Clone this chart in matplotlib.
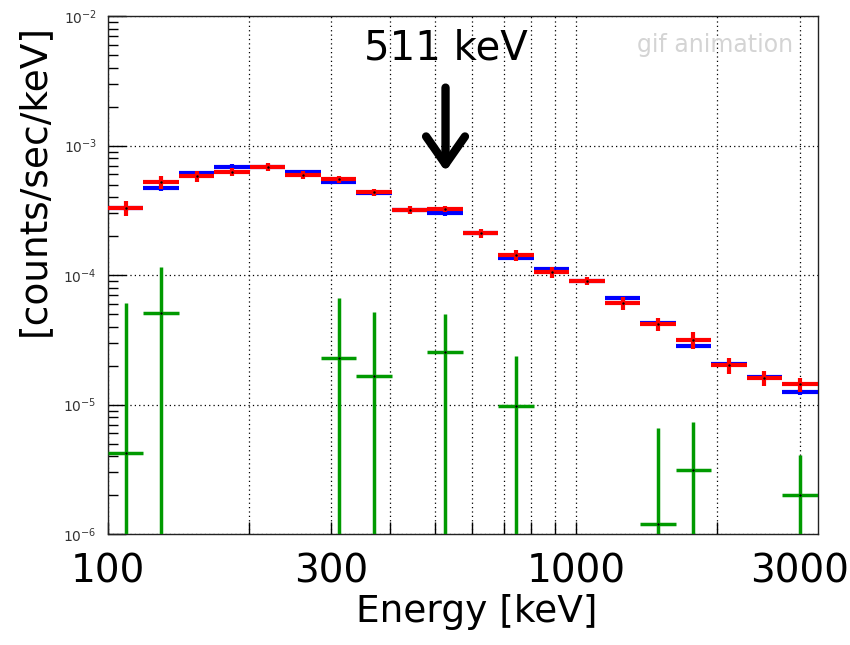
import numpy as np
import matplotlib
matplotlib.use('Agg')
import matplotlib.pyplot as plt
from matplotlib.ticker import FixedLocator, NullFormatter, LogLocator

# histogram binning (keV), 20 log bins
bin_edges = [100, 119.0, 141.8, 168.8, 201.0, 239.3, 285.0, 339.3, 404.1, 481.1,
             572.9, 682.1, 812.2, 967.1, 1151.5, 1371, 1632, 1943, 2314, 2754, 3280]

# red spectrum
red_vals = [3.29e-4, 5.2e-4, 5.81e-4, 6.28e-4, 6.86e-4, 5.97e-4, 5.5e-4, 4.35e-4, 3.18e-4, 3.25e-4,
            2.1e-4, 1.43e-4, 1.06e-4, 9.04e-5, 6.1e-5, 4.2e-5, 3.16e-5, 2.01e-5, 1.61e-5, 1.43e-5]
red_errs = [4.4e-5, 6.1e-5, 5.4e-5, 4.6e-5, 4.8e-5, 4.2e-5, 3.7e-5, 2.6e-5, 2.3e-5, 1.9e-5,
            1.8e-5, 1.4e-5, 1.05e-5, 7.1e-6, 7.2e-6, 4.7e-6, 4.8e-6, 2.8e-6, 2.2e-6, 1.8e-6]

# blue spectrum
blue_vals = [3.29e-4, 4.67e-4, 6.1e-4, 6.86e-4, 6.86e-4, 6.2e-4, 5.26e-4, 4.3e-4, 3.18e-4, 3.01e-4,
             2.1e-4, 1.36e-4, 1.11e-4, 9.0e-5, 6.64e-5, 4.25e-5, 2.85e-5, 2.04e-5, 1.63e-5, 1.25e-5]
blue_errs = [1.5e-5, 2.1e-5, 2.7e-5, 3.1e-5, 3.1e-5, 2.8e-5, 2.4e-5, 1.9e-5, 1.4e-5, 1.4e-5,
             9e-6, 6e-6, 5e-6, 4e-6, 3e-6, 1.9e-6, 1.3e-6, 9e-7, 7e-7, 6e-7]

# green difference (only the bins that show up)
green_bins = [0, 1, 6, 7, 9, 11, 15, 16, 19]
green_vals = [4.2e-6, 5.1e-5, 2.3e-5, 1.65e-5, 2.55e-5, 9.7e-6, 1.2e-6, 3.1e-6, 2.0e-6]
green_errs = [5.7e-5, 6.4e-5, 4.3e-5, 3.5e-5, 2.45e-5, 1.4e-5, 5.4e-6, 4.3e-6, 2.1e-6]

x_ticks = [100, 200, 300, 400, 500, 600, 700, 800, 900, 1000, 2000, 3000]
x_ticklabels = ['100', '', '300', '', '', '', '', '', '', '1000', '', '3000']

edges = np.array(bin_edges)
centers = np.sqrt(edges[:-1] * edges[1:])
xlo = centers - edges[:-1]
xhi = edges[1:] - centers

fig = plt.figure(figsize=(8.5, 6.45), dpi=100)
ax = fig.add_axes([0.127, 0.172, 0.835, 0.803])
ax.set_xscale('log')
ax.set_yscale('log')
ax.set_xlim(100, 3280)
ax.set_ylim(1e-6, 1e-2)

red = '#ff0000'
blue = '#0000ff'
green = '#009a00'

ax.errorbar(centers, blue_vals, yerr=blue_errs, xerr=[xlo, xhi], fmt='none',
            ecolor=blue, elinewidth=3, capsize=0, zorder=3)
ax.errorbar(centers, red_vals, yerr=red_errs, xerr=[xlo, xhi], fmt='none',
            ecolor=red, elinewidth=3, capsize=0, zorder=4)

gv = np.array(green_vals)
ge = np.array(green_errs)
gi = np.array(green_bins)
ax.errorbar(centers[gi], gv, yerr=[np.minimum(ge, gv * 0.999), ge],
            xerr=[xlo[gi], xhi[gi]], fmt='none', ecolor=green, elinewidth=2.5,
            capsize=0, zorder=4)

# little centre dots like ROOT markers
ax.plot(centers, red_vals, ls='none', marker='.', ms=1.5, color='black', zorder=5)
ax.plot(centers[gi], gv, ls='none', marker='.', ms=1.5, color='black', zorder=5)

# ticks and grid
ax.xaxis.set_major_locator(FixedLocator(x_ticks))
ax.set_xticklabels(x_ticklabels, fontsize=28)
ax.xaxis.set_minor_locator(FixedLocator([]))
ax.yaxis.set_major_locator(LogLocator(base=10, numticks=10))
ax.yaxis.set_minor_locator(LogLocator(base=10, subs=np.arange(2, 10), numticks=10))
ax.yaxis.set_minor_formatter(NullFormatter())
ax.tick_params(axis='x', direction='in', length=9, width=1, pad=13, top=False, colors='black')
ax.tick_params(axis='y', which='major', direction='in', length=13, width=1, labelsize=10,
               labelcolor='#333333', pad=8, right=False)
ax.tick_params(axis='y', which='minor', direction='in', length=7, width=1, right=False)
ax.grid(True, which='major', axis='both', color='black', linestyle=(0, (1, 2.5)), linewidth=0.9)
for s in ax.spines.values():
    s.set_linewidth(1.0)
    s.set_color('#222222')

# labels
fig.text(34 / 850, 1 - 180 / 645, '[counts/sec/keV]', rotation=90, fontsize=27,
         ha='center', va='center')
fig.text(477 / 850, 1 - 612 / 645, 'Energy [keV]', fontsize=27, ha='center', va='center')

# 511 keV marker
ax.text(526, 0.938, '511 keV', transform=ax.get_xaxis_transform(), fontsize=29,
        ha='center', va='center', zorder=6)
ax.annotate('', xy=(526, 0.700), xytext=(526, 0.862),
            xycoords=ax.get_xaxis_transform(), textcoords=ax.get_xaxis_transform(),
            arrowprops=dict(arrowstyle='->,head_length=2.0,head_width=1.4', lw=6,
                            color='black', shrinkA=0, shrinkB=0), zorder=6)
ax.text(0.855, 0.944, 'gif animation', transform=ax.transAxes, fontsize=17,
        color='#d4d4d4', ha='center', va='center')

fig.savefig('out.png', dpi=100)
